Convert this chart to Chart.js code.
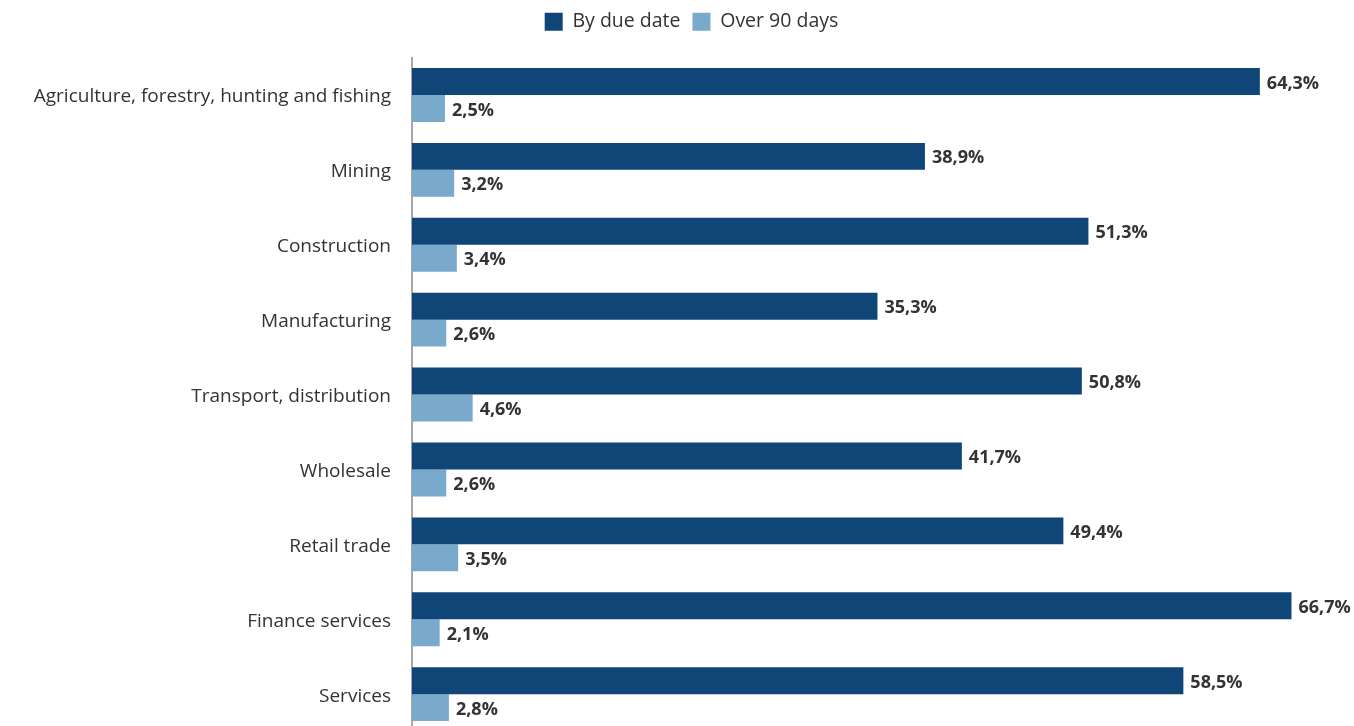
<!DOCTYPE html>
<html>
<head>
<meta charset="utf-8">
<script src="https://cdn.jsdelivr.net/npm/chart.js@4"></script>
<style>
  html, body { margin: 0; padding: 0; background: #fff; overflow: hidden; }
  #wrap { width: 1354px; height: 756px; }
</style>
</head>
<body>
<div id="wrap"><canvas id="overdueChart" width="1354" height="756"></canvas></div>
<script>
// Overdue receivables by sector, share of invoices
const sectors = [
    'Agriculture, forestry, hunting and fishing',
    'Mining',
    'Construction',
    'Manufacturing',
    'Transport, distribution',
    'Wholesale',
    'Retail trade',
    'Finance services',
    'Services'
];
const byDueDate = [64.3, 38.9, 51.3, 35.3, 50.8, 41.7, 49.4, 66.7, 58.5];
const over90Days = [2.5, 3.2, 3.4, 2.6, 4.6, 2.6, 3.5, 2.1, 2.8];

const fmtPct = v => v.toFixed(1).replace('.', ',') + '%';

// draws the value right after the end of each bar
const valueLabels = {
    id: 'valueLabels',
    afterDatasetsDraw(chart) {
        const ctx = chart.ctx;
        ctx.save();
        ctx.font = 'bold 18px "Open Sans"';
        ctx.fillStyle = '#333333';
        ctx.textAlign = 'left';
        ctx.textBaseline = 'middle';
        chart.data.datasets.forEach((ds, i) => {
            const meta = chart.getDatasetMeta(i);
            meta.data.forEach((bar, j) => {
                ctx.fillText(fmtPct(ds.data[j]), bar.x + 7, bar.y + 2);
            });
        });
        ctx.restore();
    }
};

// extra room under the legend, and legend nudged right
const legendGap = {
    id: 'legendGap',
    beforeInit(chart) {
        const origFit = chart.legend.fit;
        chart.legend.fit = function () {
            origFit.bind(chart.legend)();
            this.height += 16;
        };
    },
    afterLayout(chart) {
        chart.legend.left += 24;
        chart.legend.right += 24;
    }
};

const ctx = document.getElementById('overdueChart').getContext('2d');
const overdueChart = new Chart(ctx, {
    type: 'bar',
    data: {
        labels: sectors,
        datasets: [
            {
                label: 'By due date',
                data: byDueDate,
                backgroundColor: '#0f4577',
                categoryPercentage: 0.72,
                barPercentage: 1.0
            },
            {
                label: 'Over 90 days',
                data: over90Days,
                backgroundColor: '#7aaacb',
                categoryPercentage: 0.72,
                barPercentage: 1.0
            }
        ]
    },
    options: {
        indexAxis: 'y',
        responsive: false,
        animation: false,
        layout: {
            padding: { top: 0, right: 19, bottom: 9, left: 0 }
        },
        plugins: {
            legend: {
                position: 'top',
                labels: {
                    boxWidth: 18,
                    boxHeight: 18,
                    padding: 12,
                    color: '#333333',
                    font: { family: 'Open Sans', size: 19.5 }
                }
            },
            tooltip: { enabled: false }
        },
        scales: {
            x: {
                display: false,
                min: 0,
                max: 70
            },
            y: {
                grid: { display: false },
                border: { display: true, color: '#a6a6a6', width: 2 },
                ticks: {
                    color: '#333333',
                    padding: 13,
                    labelOffset: 2,
                    font: { family: 'Open Sans', size: 19 }
                },
                afterFit(scale) {
                    scale.width = 412;
                }
            }
        }
    },
    plugins: [valueLabels, legendGap]
});
</script>
</body>
</html>
